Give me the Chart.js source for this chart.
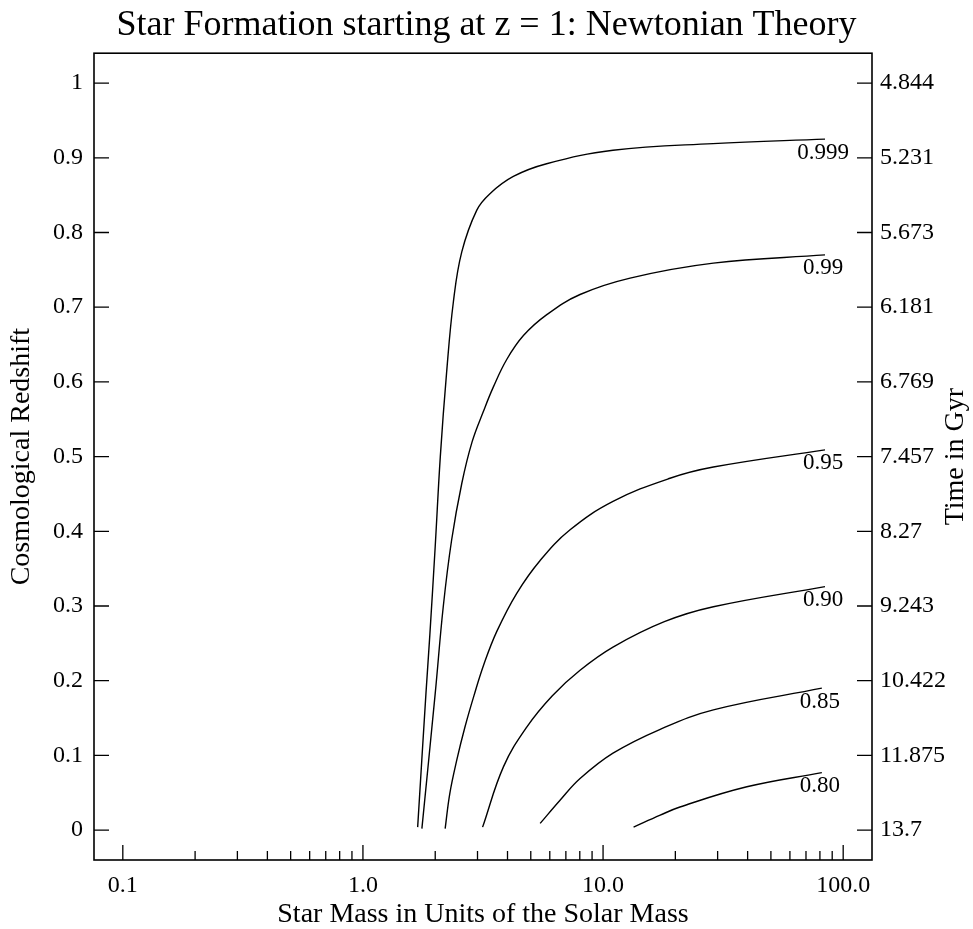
<!DOCTYPE html>
<html>
<head>
<meta charset="utf-8">
<script src="https://cdn.jsdelivr.net/npm/chart.js@4/dist/chart.umd.min.js"></script>
<style>
  html, body { margin: 0; padding: 0; background: #fff; }
  #wrap { width: 973px; height: 929px; }
</style>
</head>
<body>
<div id="wrap"><canvas id="starChart" width="973" height="929"></canvas></div>
<script>
// Axis ticks
const massTicks = [0.1, 1, 10, 100];
const massTickLabels = ['0.1', '1.0', '10.0', '100.0'];
const massMinorTicks = [0.2, 0.3, 0.4, 0.5, 0.6, 0.7, 0.8, 0.9, 2, 3, 4, 5, 6, 7, 8, 9, 20, 30, 40, 50, 60, 70, 80, 90];
const redshiftTicks = [0, 0.1, 0.2, 0.3, 0.4, 0.5, 0.6, 0.7, 0.8, 0.9, 1];
const redshiftTickLabels = ['0', '0.1', '0.2', '0.3', '0.4', '0.5', '0.6', '0.7', '0.8', '0.9', '1'];
const timeTickLabels = ['13.7', '11.875', '10.422', '9.243', '8.27', '7.457', '6.769', '6.181', '5.673', '5.231', '4.844'];

// Curves (mass, redshift)
const curveLabels = ['0.999', '0.99', '0.95', '0.90', '0.85', '0.80'];
const mass999 = [1.69, 1.83, 1.90, 2.00, 2.10, 2.23, 2.38, 2.58, 2.98, 3.38, 4.23, 5.82, 11.0, 28.7, 84];
const z999 = [0.004, 0.183, 0.262, 0.380, 0.500, 0.612, 0.707, 0.774, 0.830, 0.852, 0.875, 0.892, 0.910, 0.919, 0.925];
const mass99 = [1.76, 2.00, 2.16, 2.34, 2.58, 2.85, 3.17, 3.49, 3.97, 4.66, 5.83, 8.02, 12.96, 28.8, 84];
const z99 = [0.002, 0.183, 0.299, 0.388, 0.464, 0.520, 0.560, 0.593, 0.630, 0.662, 0.690, 0.717, 0.739, 0.759, 0.770];
const mass95 = [2.20, 2.30, 2.46, 2.66, 2.90, 3.19, 3.61, 4.37, 5.47, 7.29, 11.0, 19.0, 28.8, 84];
const z95 = [0.002, 0.049, 0.094, 0.138, 0.180, 0.222, 0.266, 0.317, 0.361, 0.402, 0.440, 0.471, 0.486, 0.509];
const mass90 = [3.15, 3.85, 4.81, 6.15, 8.02, 11.0, 18.0, 28.8, 84];
const z90 = [0.004, 0.085, 0.138, 0.180, 0.214, 0.245, 0.279, 0.299, 0.326];
const mass85 = [5.47, 6.62, 8.02, 11.0, 17.3, 28.8, 81.5];
const z85 = [0.009, 0.040, 0.069, 0.103, 0.135, 0.161, 0.190];
const mass80 = [13.4, 17.3, 20.9, 39.7, 81.5];
const z80 = [0.004, 0.020, 0.031, 0.058, 0.077];

const serif = "'Liberation Serif', 'DejaVu Serif', serif";

function toPoints(xs, ys) {
    return xs.map((x, i) => ({ x: x, y: ys[i] }));
}

const curves = [
    [mass999, z999], [mass99, z99], [mass95, z95],
    [mass90, z90], [mass85, z85], [mass80, z80]
];

const datasets = curves.map((c, i) => ({
    label: curveLabels[i],
    data: toPoints(c[0], c[1]),
    borderColor: '#000',
    borderWidth: 1.4,
    pointRadius: 0,
    fill: false,
    tension: 0.4
}));

// frame, inward ticks, curve labels and right axis title
const framePlugin = {
    id: 'frame',
    afterDraw(chart) {
        const ctx = chart.ctx;
        const a = chart.chartArea;
        const xs = chart.scales.x, ys = chart.scales.y;
        ctx.save();
        ctx.strokeStyle = '#000';
        ctx.lineWidth = 1.6;
        ctx.strokeRect(a.left, a.top, a.right - a.left, a.bottom - a.top);

        ctx.lineWidth = 1.3;
        ctx.beginPath();
        massTicks.forEach(v => {
            const px = xs.getPixelForValue(v);
            ctx.moveTo(px, a.bottom);
            ctx.lineTo(px, a.bottom - 15);
        });
        massMinorTicks.forEach(v => {
            const px = xs.getPixelForValue(v);
            ctx.moveTo(px, a.bottom);
            ctx.lineTo(px, a.bottom - 9);
        });
        redshiftTicks.forEach(v => {
            const py = ys.getPixelForValue(v);
            ctx.moveTo(a.left, py);
            ctx.lineTo(a.left + 15, py);
            ctx.moveTo(a.right, py);
            ctx.lineTo(a.right - 15, py);
        });
        ctx.stroke();

        // curve labels under the right end of each curve
        ctx.fillStyle = '#000';
        ctx.font = '23px ' + serif;
        ctx.textAlign = 'center';
        ctx.textBaseline = 'top';
        chart.data.datasets.forEach((ds, i) => {
            const pts = chart.getDatasetMeta(i).data;
            const last = pts[pts.length - 1];
            ctx.fillText(ds.label, last.x - 2, last.y + 2);
        });

        // right title, reading bottom to top
        const r = chart.scales.y2;
        ctx.font = '28px ' + serif;
        ctx.textBaseline = 'middle';
        ctx.translate(r.right - 17, (a.top + a.bottom) / 2);
        ctx.rotate(-Math.PI / 2);
        ctx.fillText('Time in Gyr', 0, 0);
        ctx.restore();
    }
};

const ctx = document.getElementById('starChart').getContext('2d');
const starChart = new Chart(ctx, {
    type: 'line',
    data: { datasets: datasets },
    options: {
        responsive: false,
        animation: false,
        layout: { padding: 0 },
        plugins: {
            legend: { display: false },
            tooltip: { enabled: false },
            title: {
                display: true,
                text: 'Star Formation starting at z = 1: Newtonian Theory',
                color: '#000',
                font: { family: serif, size: 36, weight: 'normal', lineHeight: 1.2 },
                padding: { top: 4, bottom: 6 }
            }
        },
        scales: {
            x: {
                type: 'logarithmic',
                position: 'bottom',
                min: Math.pow(10, -1.12),
                max: Math.pow(10, 2.12),
                grid: { display: false, drawTicks: false },
                border: { display: false },
                afterBuildTicks: s => { s.ticks = massTicks.map(v => ({ value: v })); },
                afterFit: s => { s.height = 69; },
                ticks: {
                    autoSkip: false,
                    maxRotation: 0,
                    padding: 11,
                    color: '#000',
                    font: { family: serif, size: 24 },
                    callback: (v, i) => massTickLabels[i]
                },
                title: {
                    display: true,
                    text: 'Star Mass in Units of the Solar Mass',
                    color: '#000',
                    font: { family: serif, size: 28, lineHeight: 1 },
                    padding: { top: 0, bottom: 0 }
                }
            },
            y: {
                type: 'linear',
                position: 'left',
                min: -0.04,
                max: 1.04,
                grid: { display: false, drawTicks: false },
                border: { display: false },
                afterBuildTicks: s => { s.ticks = redshiftTicks.map(v => ({ value: v })); },
                afterFit: s => { s.width = 94; },
                ticks: {
                    padding: 11,
                    color: '#000',
                    font: { family: serif, size: 24 },
                    callback: (v, i) => redshiftTickLabels[i]
                },
                title: {
                    display: true,
                    text: 'Cosmological Redshift',
                    color: '#000',
                    font: { family: serif, size: 28 },
                    padding: { top: 5, bottom: 0 }
                }
            },
            y2: {
                type: 'linear',
                position: 'right',
                min: -0.04,
                max: 1.04,
                grid: { display: false, drawTicks: false },
                border: { display: false },
                afterBuildTicks: s => { s.ticks = redshiftTicks.map(v => ({ value: v })); },
                afterFit: s => { s.width = 101; },
                ticks: {
                    padding: 8,
                    color: '#000',
                    font: { family: serif, size: 24 },
                    callback: (v, i) => timeTickLabels[i]
                }
            }
        }
    },
    plugins: [framePlugin]
});
</script>
</body>
</html>
